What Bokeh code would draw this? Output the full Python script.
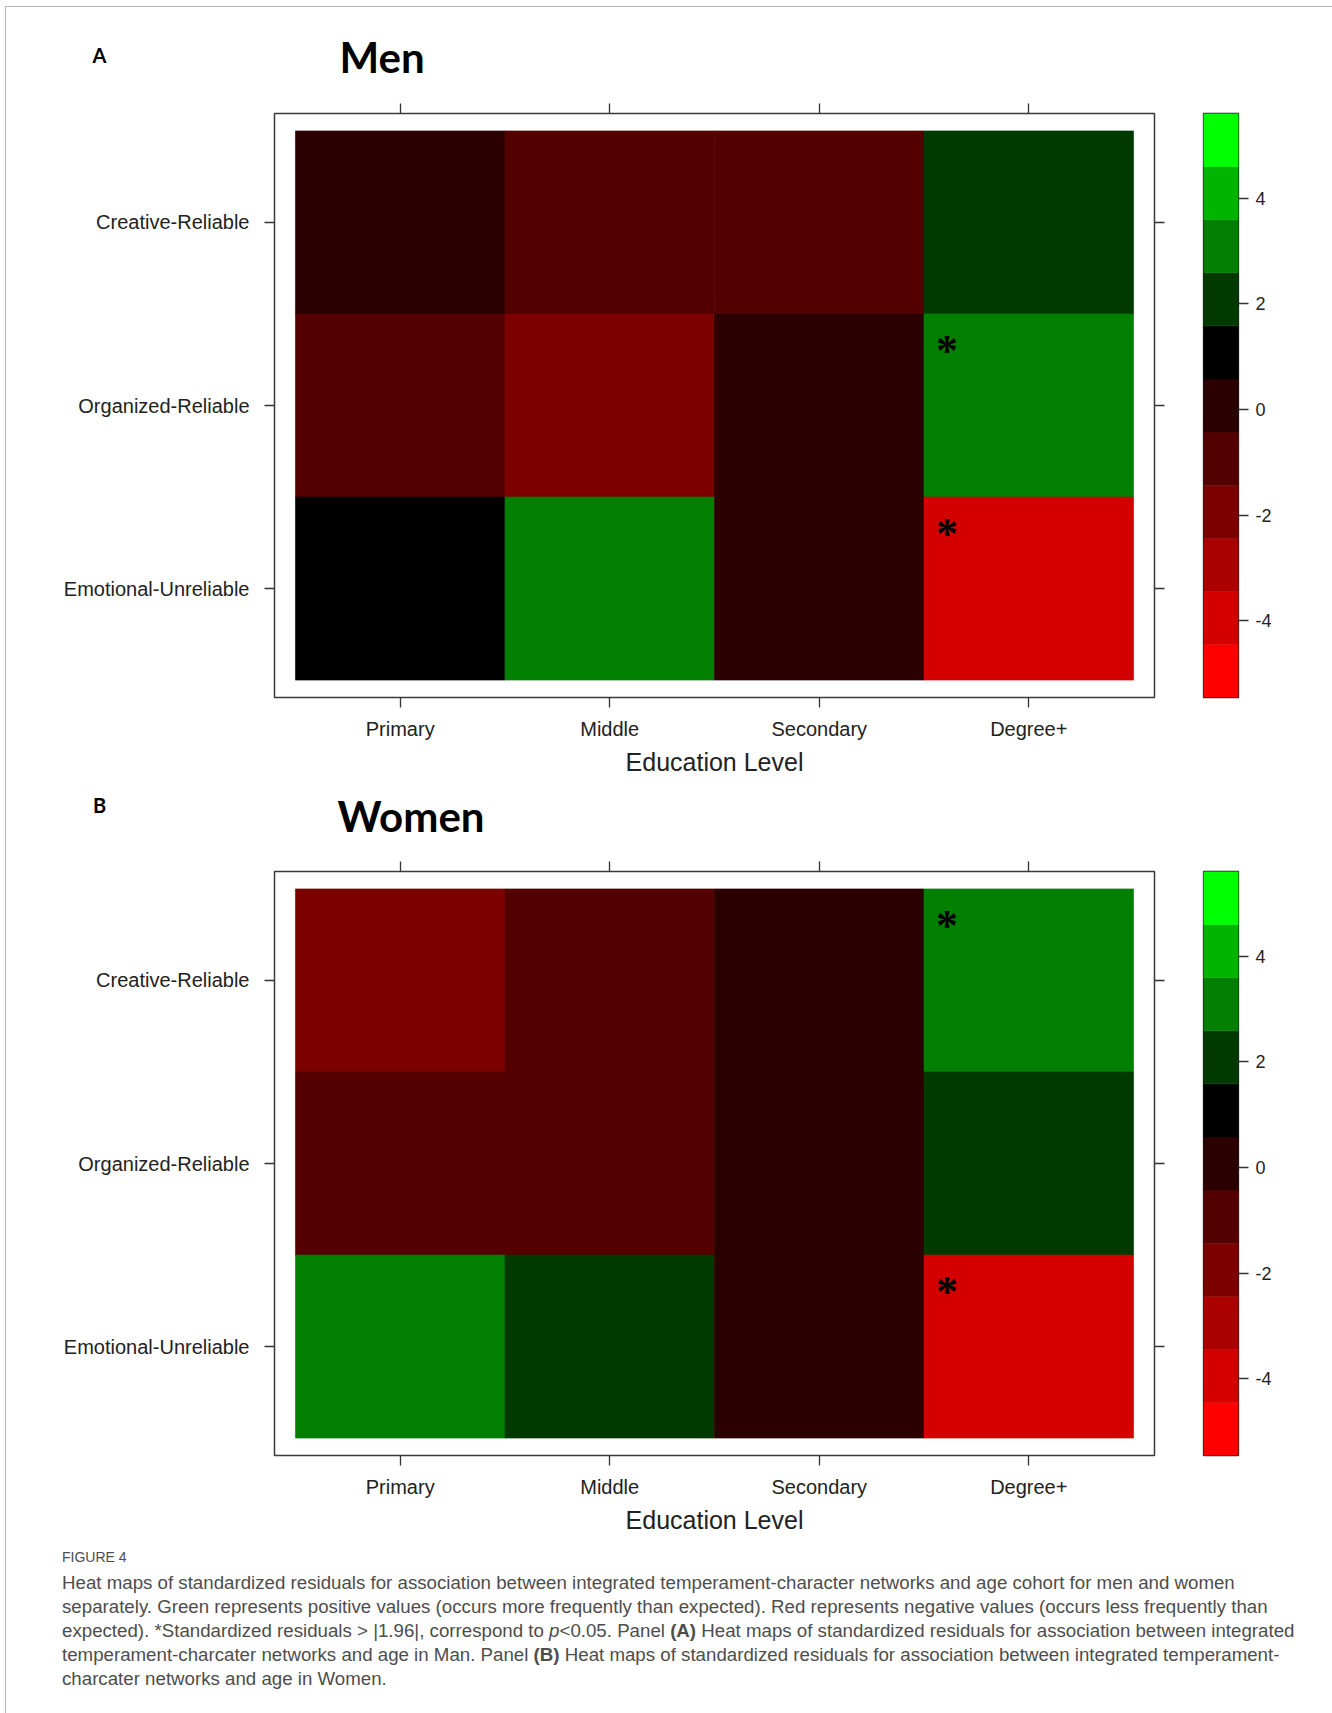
import numpy as np
from bokeh.plotting import figure
from bokeh.models import (FactorRange, Range1d, CategoricalAxis, FixedTicker,
                          ColumnDataSource, Label, Div)
from bokeh.layouts import column, row
from bokeh.transform import linear_cmap, dodge
from bokeh.embed import file_html
from bokeh.resources import INLINE

# ---------------- data ----------------
education = ["Primary", "Middle", "Secondary", "Degree+"]
networks = ["Emotional-Unreliable", "Organized-Reliable", "Creative-Reliable"]  # bottom -> top

men_creative = [0.2, -0.9, -1.1, 2.1]
men_organized = [-1.2, -2.1, 0.3, 3.1]
men_emotional = [1.0, 2.9, 0.1, -4.0]

women_creative = [-2.0, -1.0, 0.2, 3.0]
women_organized = [-1.1, -0.9, 0.1, 2.2]
women_emotional = [3.1, 2.0, 0.0, -4.1]

men_sig_x = ["Degree+", "Degree+"]
men_sig_y = ["Organized-Reliable", "Emotional-Unreliable"]
women_sig_x = ["Degree+", "Degree+"]
women_sig_y = ["Creative-Reliable", "Emotional-Unreliable"]

palette = ["#FF0000", "#D40000", "#AA0000", "#7D0000", "#540000", "#2A0000",
           "#000000", "#003A00", "#007F00", "#00B400", "#00FF00"]
scale_low, scale_high = -5.45, 5.6
cbar_ticks = [-4, -2, 0, 2, 4]
cbar_tick_labels = {-4: "-4", -2: "-2", 0: "0", 2: "2", 4: "4"}

FONT = "Liberation Sans"
TITLE_FONT = "Lato"

HEAT_W, CB_W = 1174, 145
TOTAL_W = HEAT_W + CB_W
TOP, FRAME_H = 26, 584


def heat(rows, sig_x, sig_y, bottom):
    xs, ys, vs = [], [], []
    for net, vals in rows.items():
        for e, v in zip(education, vals):
            xs.append(e)
            ys.append(net)
            vs.append(v)
    src = ColumnDataSource(dict(x=xs, y=ys, v=vs))
    p = figure(width=HEAT_W, height=TOP + FRAME_H + bottom,
               x_range=FactorRange(factors=education, range_padding=0.1,
                                   range_padding_units="absolute"),
               y_range=FactorRange(factors=networks, range_padding=0.095,
                                   range_padding_units="absolute"),
               x_axis_location=None, y_axis_location=None,
               output_backend="svg", toolbar_location=None,
               min_border_left=268, min_border_right=HEAT_W - 268 - 880,
               min_border_top=TOP, min_border_bottom=bottom)
    p.grid.grid_line_color = None
    p.outline_line_color = "#3a3a3a"
    p.outline_line_width = 1.5
    p.background_fill_color = "white"
    p.border_fill_color = "white"
    cmap = linear_cmap("v", palette, scale_low, scale_high)
    p.rect(x="x", y="y", width=1, height=1, source=src,
           fill_color=cmap, line_color=cmap, line_width=0.6)
    ssrc = ColumnDataSource(dict(x=sig_x, y=sig_y, t=["*"] * len(sig_x)))
    p.text(x=dodge("x", -0.39, range=p.x_range), y=dodge("y", 0.30, range=p.y_range),
           text="t", source=ssrc, text_font_size="44px", text_font_style="bold",
           text_align="center", text_baseline="middle", text_color="black",
           text_font=FONT)
    for loc in ["below", "left", "above", "right"]:
        ax = CategoricalAxis()
        ax.major_tick_out = 10
        ax.major_tick_in = 0
        ax.major_tick_line_color = "#333333"
        ax.major_tick_line_width = 1.3
        ax.axis_line_color = None
        ax.major_label_text_font = FONT
        ax.major_label_text_color = "#222222"
        ax.major_label_text_font_size = "20px"
        if loc in ("above", "right"):
            ax.major_label_text_font_size = "0px"
            ax.major_label_text_color = None
            ax.major_label_standoff = 0
        elif loc == "left":
            ax.major_label_standoff = 15
        else:
            ax.major_label_standoff = 10
            ax.axis_label = "Education Level"
            ax.axis_label_text_font = FONT
            ax.axis_label_text_font_style = "normal"
            ax.axis_label_text_font_size = "25px"
            ax.axis_label_text_color = "#222222"
            ax.axis_label_standoff = 5
        p.add_layout(ax, loc)
    return p


def colorbar(bottom):
    edges = np.linspace(scale_low, scale_high, len(palette) + 1)
    cb = figure(width=CB_W, height=TOP + FRAME_H + bottom, x_range=Range1d(0, 1),
                y_range=Range1d(scale_low, scale_high),
                x_axis_location=None, y_axis_location="right",
                output_backend="svg", toolbar_location=None,
                min_border_left=23, min_border_right=CB_W - 23 - 35,
                min_border_top=TOP, min_border_bottom=bottom - 2)
    cb.grid.grid_line_color = None
    cb.quad(left=0, right=1, bottom=edges[:-1], top=edges[1:],
            fill_color=palette, line_color=palette, line_width=0.5)
    cb.outline_line_color = "#222222"
    cb.outline_line_width = 1.3
    ax = cb.yaxis[0]
    ax.ticker = FixedTicker(ticks=cbar_ticks)
    ax.major_label_overrides = cbar_tick_labels
    ax.major_tick_out = 10
    ax.major_tick_in = 0
    ax.minor_tick_line_color = None
    ax.axis_line_color = None
    ax.major_tick_line_color = "#333333"
    ax.major_tick_line_width = 1.3
    ax.major_label_standoff = 7
    ax.major_label_text_font = FONT
    ax.major_label_text_font_size = "18px"
    ax.major_label_text_color = "#222222"
    return cb


def header(h, letter, title, lx, ly, tx, ty):
    hp = figure(width=TOTAL_W, height=h, x_range=Range1d(0, TOTAL_W),
                y_range=Range1d(h, 0), min_border=0,
                x_axis_location=None, y_axis_location=None,
                output_backend="svg", toolbar_location=None)
    hp.grid.grid_line_color = None
    hp.outline_line_color = None
    hp.add_layout(Label(x=lx, y=ly, text=letter, text_font=TITLE_FONT,
                        text_font_style="bold", text_font_size="20px",
                        text_align="center", text_baseline="middle",
                        text_color="black"))
    hp.add_layout(Label(x=tx, y=ty, text=title, text_font=TITLE_FONT,
                        text_font_style="bold", text_font_size="42px",
                        text_align="left", text_baseline="middle",
                        text_color="black"))
    return hp


men_rows = {"Creative-Reliable": men_creative,
            "Organized-Reliable": men_organized,
            "Emotional-Unreliable": men_emotional}
women_rows = {"Creative-Reliable": women_creative,
              "Organized-Reliable": women_organized,
              "Emotional-Unreliable": women_emotional}

hA = header(80, "A", "Men", 93, 47, 333, 49)
pA = row(heat(men_rows, men_sig_x, men_sig_y, 92), colorbar(92))
hB = header(56, "B", "Women", 93, 15, 331, 26)
pB = row(heat(women_rows, women_sig_x, women_sig_y, 84), colorbar(84))

caption_html = (
    "<div style=\"font-family:'Liberation Sans',sans-serif;color:#4d4d4d;"
    "padding-left:51px;white-space:nowrap;\">"
    "<div style='font-size:14px;line-height:16px;padding-top:5px;'>FIGURE 4</div>"
    "<div style='font-size:18.7px;line-height:24px;margin-top:6px;'>"
    "Heat maps of standardized residuals for association between integrated "
    "temperament-character networks and age cohort for men and women<br>"
    "separately. Green represents positive values (occurs more frequently than "
    "expected). Red represents negative values (occurs less frequently than<br>"
    "expected). *Standardized residuals &gt; |1.96|, correspond to <i>p</i>&lt;0.05. "
    "Panel <b>(A)</b> Heat maps of standardized residuals for association between "
    "integrated<br>"
    "temperament-charcater networks and age in Man. Panel <b>(B)</b> Heat maps of "
    "standardized residuals for association between integrated temperament-<br>"
    "charcater networks and age in Women.</div></div>"
)
cap = Div(text=caption_html, width=TOTAL_W, height=166)

inner = column(hA, pA, hB, pB, cap)
outer = column(inner, margin=(6, 0, 0, 5),
               styles={"border": "1.5px solid #b5b5b5"})
open("out.html", "w").write(file_html(outer, INLINE))
